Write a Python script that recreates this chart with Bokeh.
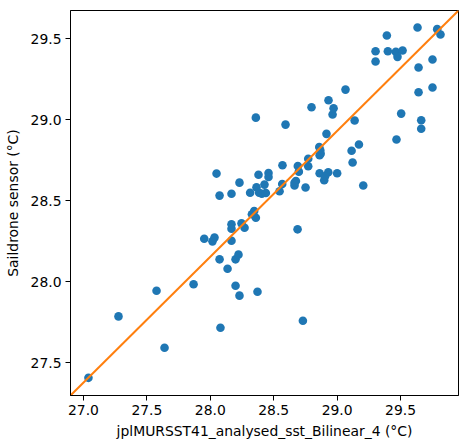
from bokeh.plotting import figure
from bokeh.models import Range1d, ColumnDataSource
from bokeh.embed import file_html
from bokeh.resources import INLINE

# Data
mur_sst = [27.039, 27.276, 27.576, 27.639, 27.868, 27.952, 28.017, 28.033, 28.049, 28.073,
           28.073, 28.080, 28.136, 28.167, 28.167, 28.167, 28.167, 28.199, 28.199, 28.222,
           28.230, 28.230, 28.246, 28.270, 28.314, 28.328, 28.346, 28.359, 28.359, 28.364,
           28.372, 28.380, 28.385, 28.406, 28.427, 28.438, 28.459, 28.459, 28.546, 28.567,
           28.569, 28.593, 28.664, 28.675, 28.688, 28.690, 28.698, 28.730, 28.751, 28.772,
           28.772, 28.798, 28.859, 28.862, 28.862, 28.867, 28.898, 28.916, 28.930, 28.932,
           28.964, 28.972, 29.000, 29.066, 29.114, 29.122, 29.138, 29.172, 29.206, 29.303,
           29.303, 29.392, 29.400, 29.463, 29.468, 29.476, 29.516, 29.505, 29.634, 29.642,
           29.642, 29.663, 29.663, 29.752, 29.752, 29.789, 29.815, 28.870, 28.905, 28.664]
saildrone = [27.407, 27.786, 27.944, 27.593, 27.984, 28.265, 28.249, 28.272, 28.667, 28.531,
             28.138, 27.716, 28.080, 28.543, 28.354, 28.327, 28.253, 27.975, 28.138, 28.167,
             28.611, 27.914, 28.360, 28.333, 28.549, 28.416, 28.436, 29.012, 28.395, 28.582,
             27.938, 28.660, 28.549, 28.543, 28.599, 28.547, 28.671, 28.646, 28.558, 28.603,
             28.718, 28.969, 28.593, 28.621, 28.323, 28.714, 28.679, 27.759, 28.581, 28.759,
             28.712, 29.076, 28.831, 28.780, 28.669, 28.811, 28.626, 28.912, 28.675, 29.119,
             29.031, 29.070, 28.669, 29.185, 28.808, 28.735, 28.994, 28.846, 28.593, 29.422,
             29.358, 29.519, 29.422, 29.418, 28.877, 29.387, 29.426, 29.037, 29.568, 29.321,
             29.169, 28.996, 28.944, 29.371, 29.198, 29.558, 29.525, 28.790, 28.650, 28.610]

xlim = (26.8975, 29.957)
ylim = (27.298, 29.673)
x_ticks = [27.0, 27.5, 28.0, 28.5, 29.0, 29.5]
y_ticks = [27.5, 28.0, 28.5, 29.0, 29.5]

p = figure(width=467, height=448, output_backend="svg", toolbar_location=None,
           x_range=Range1d(*xlim), y_range=Range1d(*ylim),
           min_border_left=70, min_border_right=9, min_border_top=10, min_border_bottom=53)

src = ColumnDataSource(dict(x=mur_sst, y=saildrone))
p.scatter("x", "y", source=src, size=8.6, fill_color="#1f77b4", line_color=None)
p.line(x=list(xlim), y=list(ylim), line_color="#ff7f0e", line_width=2)

p.xgrid.visible = False
p.ygrid.visible = False
p.outline_line_color = "black"
p.outline_line_width = 1
p.outline_line_alpha = 1

for ax in (p.xaxis, p.yaxis):
    ax.minor_tick_line_color = None
    ax.major_tick_in = 0
    ax.major_tick_out = 5
    ax.major_tick_line_color = "black"
    ax.axis_line_color = "black"
    ax.major_label_text_font = "DejaVu Sans"
    ax.major_label_text_font_size = "13.9px"
    ax.major_label_text_color = "black"
    ax.axis_label_text_font = "DejaVu Sans"
    ax.axis_label_text_font_size = "13.9px"
    ax.axis_label_text_font_style = "normal"
    ax.axis_label_text_color = "black"

p.xaxis.ticker = x_ticks
p.yaxis.ticker = y_ticks
p.xaxis.major_label_overrides = {t: f"{t:.1f}" for t in x_ticks}
p.yaxis.major_label_overrides = {t: f"{t:.1f}" for t in y_ticks}
p.xaxis.axis_label = "jplMURSST41_analysed_sst_Bilinear_4 (°C)"
p.yaxis.axis_label = "Saildrone sensor (°C)"
p.xaxis.major_label_standoff = 4
p.yaxis.major_label_standoff = 4
p.xaxis.axis_label_standoff = 5
p.yaxis.axis_label_standoff = 7

open("out.html", "w").write(file_html(p, INLINE))
